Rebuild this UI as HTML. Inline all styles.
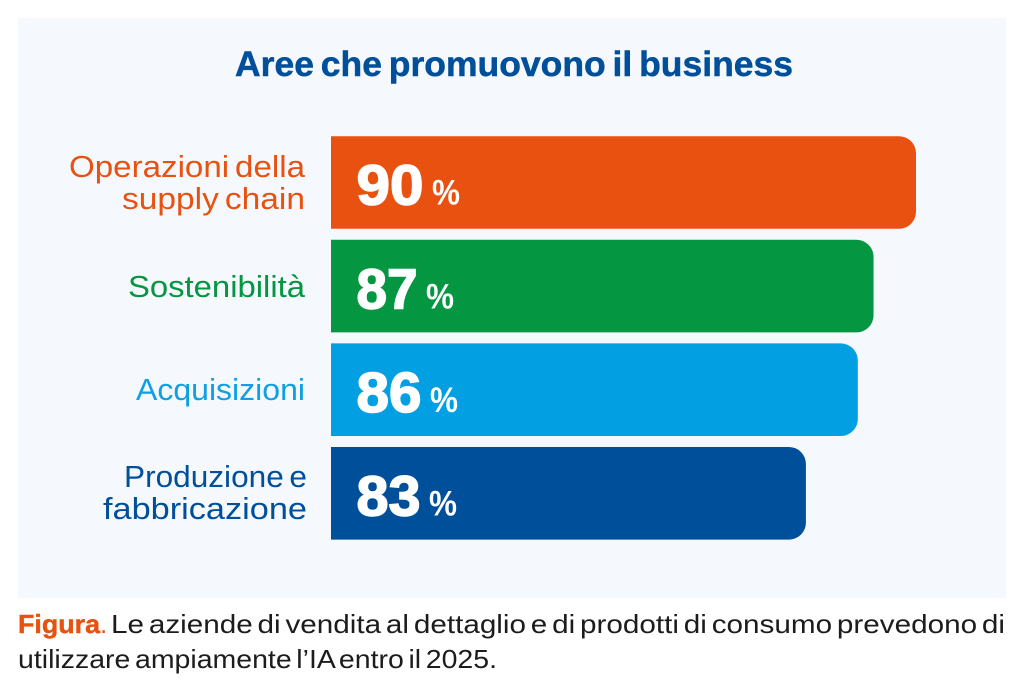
<!DOCTYPE html>
<html lang="it">
<head>
<meta charset="utf-8">
<title>Aree che promuovono il business</title>
<style>
  html, body { margin: 0; padding: 0; background: #fff; }
  svg { display: block; }
  text { font-family: "Liberation Sans", sans-serif; }
</style>
</head>
<body>
<svg id="chart" xmlns="http://www.w3.org/2000/svg" width="1024" height="687" viewBox="0 0 1024 687">
  <rect x="18" y="18" width="988" height="580" fill="#f5f9fe"/>
  <text x="235" y="76" font-size="35" font-weight="700" fill="#004f9b" stroke="#004f9b" stroke-width="0.5" word-spacing="-3" textLength="558" lengthAdjust="spacingAndGlyphs">Aree che promuovono il business</text>

  <g font-size="30.5" text-anchor="start" word-spacing="-3">
    <text x="69" y="177" fill="#e8510f" textLength="236" lengthAdjust="spacingAndGlyphs">Operazioni della</text>
    <text x="122" y="209" fill="#e8510f" textLength="183" lengthAdjust="spacingAndGlyphs">supply chain</text>
    <text x="128" y="297" fill="#049640" textLength="177" lengthAdjust="spacingAndGlyphs">Sostenibilità</text>
    <text x="136" y="400" fill="#109fe2" textLength="169" lengthAdjust="spacingAndGlyphs">Acquisizioni</text>
    <text x="124" y="487" fill="#004f9b" textLength="183" lengthAdjust="spacingAndGlyphs">Produzione e</text>
    <text x="103" y="519" fill="#004f9b" textLength="204" lengthAdjust="spacingAndGlyphs">fabbricazione</text>
  </g>

  <g id="bars"></g>

  <g font-size="26" fill="#1c1c1c" word-spacing="-3">
    <text x="18" y="633" font-weight="700" fill="#e8510f" stroke="#e8510f" stroke-width="0.4" textLength="82" lengthAdjust="spacingAndGlyphs">Figura</text>
    <text x="100" y="633" fill="#e8510f">.</text>
    <text x="111" y="633" textLength="894" lengthAdjust="spacingAndGlyphs">Le aziende di vendita al dettaglio e di prodotti di consumo prevedono di</text>
    <text x="18" y="668" textLength="479" lengthAdjust="spacingAndGlyphs">utilizzare ampiamente l’IA entro il 2025.</text>
  </g>
</svg>
<script>
// Chart data: bar lengths; printed labels are these rounded.
var categories = ['operazioni-supply-chain', 'sostenibilita', 'acquisizioni', 'produzione-fabbricazione'];
var seriesValues = [90, 87.3, 86.3, 83];
var seriesColors = ['#e8510f', '#049640', '#029fe3', '#004f9b'];

// Axis functions
var xDomain = [52.8, 90];
var xRange = [331, 916];
function xScale(v) {
  return xRange[0] + (v - xDomain[0]) * (xRange[1] - xRange[0]) / (xDomain[1] - xDomain[0]);
}
var bandTop = 136.2, bandStep = 103.6, barHeight = 92.6, radius = 17;
function yScale(i) { return bandTop + i * bandStep; }

// Advance of each digit in the reference's proportional numerals
function digitAdvance(ch) {
  if (ch === '7') { return 28; }
  if (ch === '3') { return 31; }
  if (ch === '6') { return 32; }
  if (ch === '9') { return 34; }
  return 33;
}
function textAdvance(str) {
  var total = 0;
  for (var k = 0; k < str.length; k++) { total += digitAdvance(str.charAt(k)); }
  return total;
}

var NS = 'http://www.w3.org/2000/svg';
var group = document.getElementById('bars');

categories.forEach(function (cat, i) {
  var x0 = xRange[0];
  var x1 = xScale(seriesValues[i]);
  var y = yScale(i);
  var r = radius;
  var printed = String(Math.round(seriesValues[i]));
  var advance = textAdvance(printed);

  var bar = document.createElementNS(NS, 'path');
  
  
  bar.setAttribute('fill', seriesColors[i]);
  bar.setAttribute('d',
    'M' + x0 + ' ' + y +
    'H' + (x1 - r) +
    'A' + r + ' ' + r + ' 0 0 1 ' + x1 + ' ' + (y + r) +
    'V' + (y + barHeight - r) +
    'A' + r + ' ' + r + ' 0 0 1 ' + (x1 - r) + ' ' + (y + barHeight) +
    'H' + x0 + 'Z');
  group.appendChild(bar);

  var label = document.createElementNS(NS, 'text');
  
  
  label.setAttribute('x', x0 + 25.5);
  label.setAttribute('y', y + 68.5);
  label.setAttribute('font-size', '57');
  label.setAttribute('font-weight', '700');
  label.setAttribute('fill', '#ffffff');
  label.setAttribute('stroke', '#ffffff');
  label.setAttribute('stroke-width', '1.6');
  label.setAttribute('textLength', advance);
  label.setAttribute('lengthAdjust', 'spacingAndGlyphs');
  label.textContent = printed;
  group.appendChild(label);

  var pct = document.createElementNS(NS, 'text');
  
  
  pct.setAttribute('x', x0 + 25 + advance + 9);
  pct.setAttribute('y', y + 68.5);
  pct.setAttribute('font-size', '35');
  pct.setAttribute('font-weight', '700');
  pct.setAttribute('fill', '#ffffff');
  pct.setAttribute('textLength', '28');
  pct.setAttribute('lengthAdjust', 'spacingAndGlyphs');
  pct.textContent = '%';
  group.appendChild(pct);
});
</script>
</body>
</html>
